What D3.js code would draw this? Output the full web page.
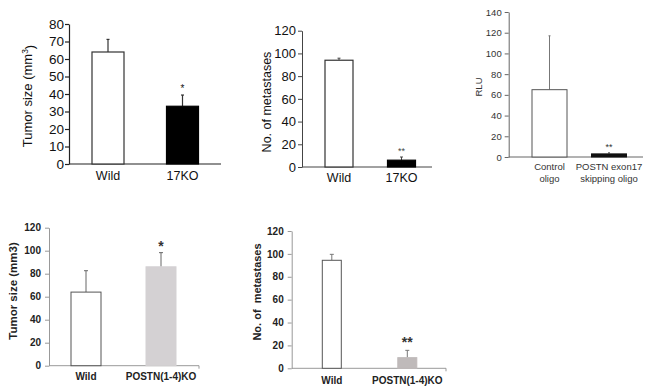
<!DOCTYPE html>
<html><head><meta charset="utf-8">
<script src="https://cdn.jsdelivr.net/npm/d3@7"></script>
<style>body{margin:0;background:#fff}svg{display:block}</style>
</head><body>
<svg id="c" width="652" height="390"></svg>
<script>
// ---- data ----
const cats1 = ["Wild", "17KO"];
const vals1 = [64, 33];
const errs1 = [7.2, 6.4];
const stars1 = ["", "*"];
const ticks1 = [0, 10, 20, 30, 40, 50, 60, 70, 80];

const cats2 = ["Wild", "17KO"];
const vals2 = [94, 6];
const errs2 = [1.8, 2.8];
const stars2 = ["", "**"];
const ticks2 = [0, 20, 40, 60, 80, 100, 120];

const cats3 = [["Control", "oligo"], ["POSTN exon17", "skipping oligo"]];
const vals3 = [65, 3];
const errs3 = [52, 1.2];
const stars3 = ["", "**"];
const ticks3 = [0, 20, 40, 60, 80, 100, 120, 140];

const cats4 = ["Wild", "POSTN(1-4)KO"];
const vals4 = [64, 86];
const errs4 = [18.6, 12.3];
const stars4 = ["", "*"];
const ticks4 = [0, 20, 40, 60, 80, 100, 120];

const cats5 = ["Wild", "POSTN(1-4)KO"];
const vals5 = [94.4, 9.3];
const errs5 = [5.2, 6.4];
const stars5 = ["", "**"];
const ticks5 = [0, 20, 40, 60, 80, 100, 120];

const svg = d3.select("#c");

function panel(o) {
  const g = svg.append("g");
  const y = d3.scaleLinear().domain([0, o.ymax]).range([o.y0, o.y1]);
  const x = d3.scalePoint().domain(o.cats.map((d, i) => i)).range(o.centers);
  // y axis
  const ax = d3.axisLeft(y).tickValues(o.ticks).tickSize(o.tick).tickPadding(o.pad).tickSizeOuter(0);
  const ag = g.append("g").attr("transform", `translate(${o.ax},0)`).call(ax);
  ag.select(".domain").attr("stroke", o.axisColor).attr("stroke-width", o.axisW);
  ag.selectAll(".tick line").attr("stroke", o.axisColor).attr("stroke-width", o.axisW);
  ag.selectAll(".tick text").attr("fill", o.textColor).style("font-family", o.font)
    .style("font-size", o.tickFs + "px").style("font-weight", o.weight);
  // x axis line
  g.append("line").attr("x1", o.ax).attr("x2", o.axEnd).attr("y1", y(0)).attr("y2", y(0))
    .attr("stroke", o.axisColor).attr("stroke-width", o.axisW);
  if (o.endTick) {
    g.append("line").attr("x1", o.axEnd).attr("x2", o.axEnd).attr("y1", y(0)).attr("y2", y(0) + 3)
      .attr("stroke", o.axisColor).attr("stroke-width", o.axisW);
  }
  // error bars (behind bars)
  o.vals.forEach((v, i) => {
    const cx = x(i);
    g.append("line").attr("x1", cx).attr("x2", cx).attr("y1", y(v)).attr("y2", y(v + o.errs[i]))
      .attr("stroke", o.errColor).attr("stroke-width", o.errW);
    g.append("line").attr("x1", cx - o.cap).attr("x2", cx + o.cap)
      .attr("y1", y(v + o.errs[i])).attr("y2", y(v + o.errs[i]))
      .attr("stroke", o.errColor).attr("stroke-width", o.errW);
  });
  // bars
  o.vals.forEach((v, i) => {
    g.append("rect").attr("x", x(i) - o.bw / 2).attr("width", o.bw)
      .attr("y", y(v)).attr("height", y(0) - y(v))
      .attr("fill", o.fills[i]).attr("stroke", o.strokes[i]).attr("stroke-width", o.barW);
  });
  // stars
  o.stars.forEach((s, i) => {
    if (!s) return;
    g.append("text").attr("x", x(i)).attr("y", y(o.vals[i] + o.errs[i]) - o.starGap)
      .attr("text-anchor", "middle").attr("fill", o.starColor)
      .style("font-family", o.font).style("font-size", o.starFs + "px").style("font-weight", o.weight)
      .text(s);
  });
  // category labels
  o.cats.forEach((c, i) => {
    const lines = Array.isArray(c) ? c : [c];
    lines.forEach((t, j) => {
      g.append("text").attr("x", x(i)).attr("y", o.labY + j * o.labLH)
        .attr("text-anchor", "middle").attr("fill", o.textColor)
        .style("font-family", o.font).style("font-size", o.labFs + "px").style("font-weight", o.weight)
        .text(t);
    });
  });
  // y title
  const tt = g.append("text").attr("transform", `translate(${o.titleX},${o.titleY}) rotate(-90)`)
    .attr("text-anchor", "middle").attr("dy", "0.35em").attr("fill", o.textColor)
    .style("font-family", o.font).style("font-size", o.titleFs + "px").style("font-weight", o.weight)
    .style("white-space", "pre");
  if (o.title === "Tumor size (mm3)sup") {
    tt.append("tspan").text("Tumor size (mm");
    tt.append("tspan").attr("dy", "-0.45em").style("font-size", (o.titleFs * 0.65) + "px").text("3");
    tt.append("tspan").attr("dy", "0.45em").text(")");
  } else {
    tt.text(o.title);
  }
}

const helv = "'Liberation Sans', Arial, sans-serif";

panel({
  cats: cats1, vals: vals1, errs: errs1, stars: stars1, ticks: ticks1, ymax: 80,
  y0: 164, y1: 24, ax: 69, axEnd: 221, centers: [108, 182.5], bw: 32,
  tick: 4, pad: 1, axisColor: "#222", axisW: 1.2, textColor: "#111", font: helv, weight: "normal",
  tickFs: 13.5, labFs: 12.5, labY: 180, labLH: 12, titleFs: 13, titleX: 27.5, titleY: 96,
  title: "Tumor size (mm3)sup", fills: ["#fff", "#000"], strokes: ["#333", "#000"], barW: 1.2,
  errColor: "#333", errW: 1.2, cap: 1.5, starColor: "#111", starFs: 10, starGap: 3
});

panel({
  cats: cats2, vals: vals2, errs: errs2, stars: stars2, ticks: ticks2, ymax: 120,
  y0: 167, y1: 30.7, ax: 302, axEnd: 432, centers: [339, 401.5], bw: 28,
  tick: 4, pad: 2, axisColor: "#444", axisW: 1, textColor: "#111", font: helv, weight: "normal",
  tickFs: 13, labFs: 12.5, labY: 182, labLH: 12, titleFs: 12.5, titleX: 266.5, titleY: 102,
  title: "No. of metastases", fills: ["#fff", "#000"], strokes: ["#333", "#000"], barW: 1.2,
  errColor: "#444", errW: 1, cap: 1.5, starColor: "#444", starFs: 9, starGap: 3
});

panel({
  cats: cats3, vals: vals3, errs: errs3, stars: stars3, ticks: ticks3, ymax: 140,
  y0: 157, y1: 12, ax: 508.7, axEnd: 643, centers: [549.5, 609], bw: 35,
  tick: 4, pad: 3, axisColor: "#666", axisW: 1, textColor: "#333", font: helv, weight: "normal",
  tickFs: 9.5, labFs: 9.5, labY: 170, labLH: 12, titleFs: 9.5, titleX: 478.5, titleY: 87,
  title: "RLU", fills: ["#fff", "#111"], strokes: ["#555", "#111"], barW: 1,
  errColor: "#777", errW: 1, cap: 1, starColor: "#333", starFs: 9, starGap: 3
});

panel({
  cats: cats4, vals: vals4, errs: errs4, stars: stars4, ticks: ticks4, ymax: 120,
  y0: 365.7, y1: 227.7, ax: 49, axEnd: 199, centers: [86, 161], bw: 30,
  tick: 4, pad: 4, axisColor: "#999", axisW: 1, textColor: "#222", font: helv, weight: "bold",
  tickFs: 10, labFs: 10, labY: 380, labLH: 12, titleFs: 11.5, titleX: 13, titleY: 291,
  title: "Tumor size (mm3)", fills: ["#fff", "#d4d1d3"], strokes: ["#555", "#d4d1d3"], barW: 1,
  errColor: "#666", errW: 1, cap: 2, starColor: "#333", starFs: 14, starGap: 2, endTick: true
});

panel({
  cats: cats5, vals: vals5, errs: errs5, stars: stars5, ticks: ticks5, ymax: 120,
  y0: 368.3, y1: 231, ax: 291.7, axEnd: 446, centers: [331.8, 407.3], bw: 19,
  tick: 4, pad: 4, axisColor: "#999", axisW: 1, textColor: "#222", font: helv, weight: "bold",
  tickFs: 10, labFs: 10, labY: 384, labLH: 12, titleFs: 11, titleX: 257, titleY: 292,
  title: "No. of  metastases", fills: ["#fff", "#bfbaba"], strokes: ["#555", "#bfbaba"], barW: 1,
  errColor: "#777", errW: 1, cap: 2, starColor: "#333", starFs: 14, starGap: 3, endTick: true
});
</script>
</body></html>
